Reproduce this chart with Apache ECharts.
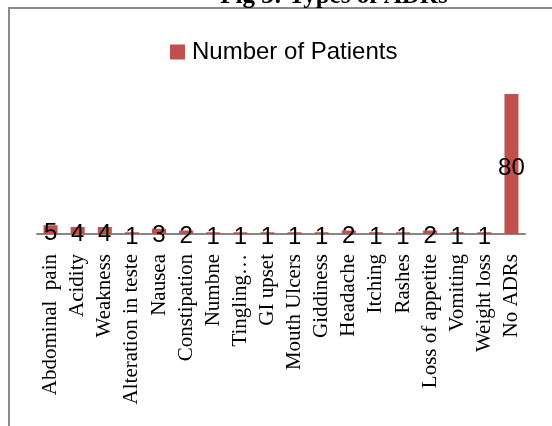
<!DOCTYPE html>
<html>
<head>
<meta charset="utf-8">
<script src="https://cdn.jsdelivr.net/npm/echarts@6/dist/echarts.min.js"></script>
<style>
  html, body { margin: 0; padding: 0; background: #fff; }
  #chart { width: 552px; height: 426px; }
</style>
</head>
<body>
<div id="chart"></div>
<script>
// Types of adverse drug reactions and patient counts
const categories = [
  'Abdominal  pain', 'Acidity', 'Weakness', 'Alteration in teste', 'Nausea',
  'Constipation', 'Numbne', 'Tingling…', 'GI upset', 'Mouth Ulcers',
  'Giddiness', 'Headache', 'Itching', 'Rashes', 'Loss of appetite',
  'Vomiting', 'Weight loss', 'No ADRs'
];
const patients = [5, 4, 4, 1, 3, 2, 1, 1, 1, 1, 1, 2, 1, 1, 2, 1, 1, 80];
const seriesName = 'Number of Patients';
const chartTitle = 'Fig 3: Types of ADRs';

const chart = echarts.init(document.getElementById('chart'), null, { renderer: 'canvas' });

chart.setOption({
  backgroundColor: '#ffffff',
  animation: false,
  title: {
    text: chartTitle,
    left: 329,
    textAlign: 'center',
    top: -21,
    textStyle: { fontFamily: 'Liberation Serif', fontWeight: 'bold', fontSize: 25, color: '#000' }
  },
  graphic: [{
    type: 'rect',
    shape: { x: 9, y: 8, width: 600, height: 460 },
    style: { fill: 'none', stroke: '#8c8c8c', lineWidth: 2 },
    z: 0
  }],
  legend: {
    data: [seriesName],
    left: 170,
    top: 40,
    padding: 0,
    itemWidth: 15,
    itemHeight: 15,
    itemGap: 0,
    icon: 'rect',
    textStyle: { fontFamily: 'Liberation Sans', fontSize: 24, color: '#000', padding: [0, 0, 0, 2] }
  },
  grid: { left: 37, right: 27, top: 76.5, bottom: 192, containLabel: false },
  xAxis: {
    type: 'category',
    data: categories,
    axisLine: { lineStyle: { color: '#868686', width: 2 } },
    axisTick: { show: false },
    axisLabel: {
      rotate: 90,
      interval: 0,
      margin: 20,
      fontFamily: 'Liberation Serif',
      fontSize: 21,
      color: '#000'
    }
  },
  yAxis: {
    type: 'value',
    min: 0,
    max: 90,
    show: false,
    splitLine: { show: false }
  },
  series: [{
    name: seriesName,
    type: 'bar',
    data: patients,
    barWidth: 14,
    itemStyle: { color: '#C0504D' },
    label: {
      show: true,
      position: 'inside',
      offset: [0, 4],
      fontFamily: 'Liberation Sans',
      fontSize: 24,
      color: '#000'
    }
  }]
});
</script>
</body>
</html>
